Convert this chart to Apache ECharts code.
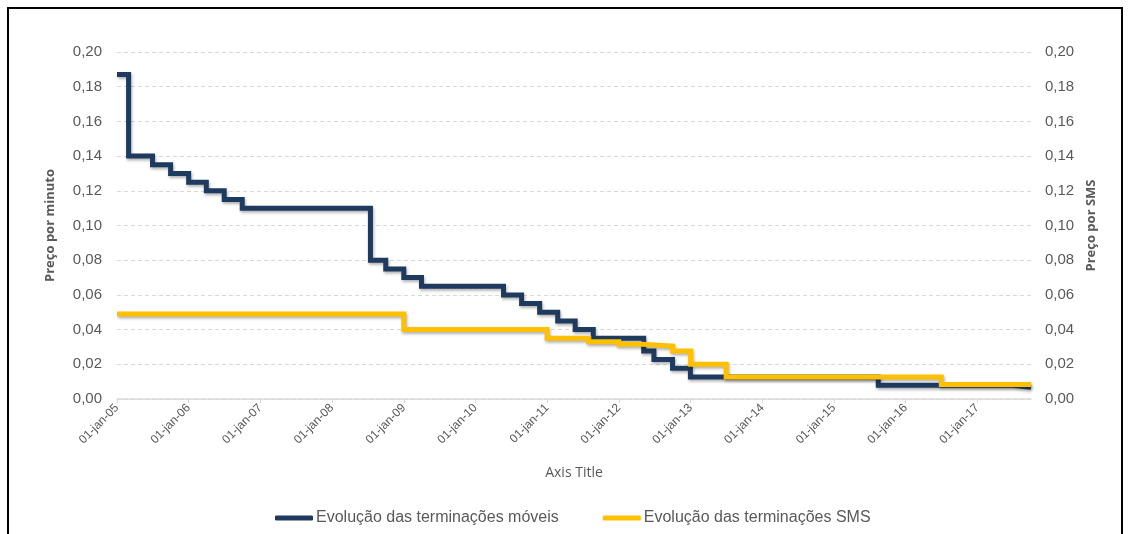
<!DOCTYPE html>
<html>
<head>
<meta charset="utf-8">
<script src="https://cdn.jsdelivr.net/npm/echarts@6/dist/echarts.min.js"></script>
<style>
  html, body { margin: 0; padding: 0; background: #fff; overflow: hidden; }
  #wrap { position: relative; width: 1132px; height: 534px; overflow: hidden; }
  #chart { position: absolute; left: 0; top: 0; width: 1132px; height: 534px; }
  #frame { position: absolute; left: 7px; top: 7px; width: 1116px; height: 600px;
           border: 2px solid #000; box-sizing: border-box; pointer-events: none; }
</style>
</head>
<body>
<div id="wrap">
  <div id="chart"></div>
  <div id="frame"></div>
</div>
<script>
// Mobile termination rate (€/min): each value applies from its date until the next one
const mobileDates = ['2005-01-01', '2005-03-01', '2005-07-01', '2005-10-01', '2006-01-01',
  '2006-04-01', '2006-07-01', '2006-10-01', '2008-07-15', '2008-10-01', '2009-01-01',
  '2009-04-01', '2010-05-24', '2010-08-24', '2010-11-24', '2011-02-24', '2011-05-24',
  '2011-08-24', '2012-05-07', '2012-06-28', '2012-10-01', '2012-12-31', '2015-08-15',
  '2017-07-01', '2017-10-01'];
const mobileRates = [0.187, 0.14, 0.135, 0.13, 0.125,
  0.12, 0.115, 0.11, 0.08, 0.075, 0.07,
  0.065, 0.06, 0.055, 0.05, 0.045, 0.04,
  0.035, 0.0277, 0.0227, 0.0177, 0.0127, 0.0079,
  0.0068, 0.0068];

// SMS termination rate (€/SMS)
const smsDates = ['2005-01-01', '2009-01-01', '2011-01-01', '2011-08-01', '2012-01-01',
  '2012-05-01', '2012-10-01', '2013-01-01', '2013-07-01', '2016-07-01', '2017-10-01'];
const smsRates = [0.049, 0.04, 0.035, 0.033, 0.0315,
  0.0305, 0.0277, 0.0201, 0.0127, 0.0083, 0.0083];

// Year ticks on the date axis
const tickYears = [2005, 2006, 2007, 2008, 2009, 2010, 2011, 2012, 2013, 2014, 2015, 2016, 2017];
const monthAbbr = 'jan';
const xStart = '2005-01-01';
const xEnd = '2017-10-01';

const seriesNames = ['Evolução das terminações móveis', 'Evolução das terminações SMS'];
const axisNames = { left: 'Preço por minuto', right: 'Preço por SMS', bottom: 'Axis Title' };

const ts = s => { const p = s.split('-').map(Number); return Date.UTC(p[0], p[1] - 1, p[2]); };
const tickValues = tickYears.map(y => Date.UTC(y, 0, 1));
const toPairs = (dates, vals) => dates.map((d, i) => [ts(d), vals[i]]);
const fmtComma = v => v.toFixed(2).replace('.', ',');
const fmtDate = v => '01-' + monthAbbr + '-' + String(new Date(v + 43200000).getUTCFullYear()).slice(2);

const TXT = '#595959';
const GRID = '#d9d9d9';

const yAxisBase = {
  type: 'value', min: 0, max: 0.2, interval: 0.02,
  axisLine: { show: false }, axisTick: { show: false },
  nameLocation: 'middle', nameRotate: 90,
  nameTextStyle: { color: TXT, fontFamily: 'Open Sans', fontWeight: 'bold', fontSize: 13 },
  axisLabel: { color: TXT, fontFamily: 'Liberation Sans', fontSize: 15, formatter: fmtComma }
};

const chart = echarts.init(document.getElementById('chart'), null, { renderer: 'canvas' });
chart.setOption({
  animation: false,
  backgroundColor: '#fff',
  grid: { left: 117, right: 101, top: 52, bottom: 135, containLabel: false },
  xAxis: {
    type: 'value',
    min: ts(xStart), max: ts(xEnd),
    name: axisNames.bottom, nameLocation: 'middle', nameGap: 67,
    nameTextStyle: { color: TXT, fontFamily: 'Open Sans', fontSize: 14 },
    axisLine: { lineStyle: { color: GRID, width: 1.5 } },
    axisTick: { show: true, length: 4, lineStyle: { color: GRID }, customValues: tickValues },
    splitLine: { show: false },
    axisLabel: {
      customValues: tickValues,
      rotate: 45, margin: 7,
      color: TXT, fontFamily: 'Liberation Sans', fontSize: 12,
      formatter: fmtDate
    }
  },
  yAxis: [
    Object.assign({}, yAxisBase, {
      position: 'left', name: axisNames.left, nameGap: 60,
      axisLabel: Object.assign({}, yAxisBase.axisLabel, { margin: 15 }),
      splitLine: { show: true, lineStyle: { color: GRID, type: [4, 3], width: 1 } }
    }),
    Object.assign({}, yAxisBase, {
      position: 'right', name: axisNames.right, nameGap: 54,
      axisLabel: Object.assign({}, yAxisBase.axisLabel, { margin: 14 }),
      splitLine: { show: false }
    })
  ],
  legend: {
    top: 505, left: 270,
    selectedMode: false,
    icon: 'roundRect', itemWidth: 38, itemHeight: 5, itemGap: 44,
    textStyle: { color: TXT, fontFamily: 'Liberation Sans', fontSize: 16, padding: [0, 0, 0, -2] },
    data: seriesNames
  },
  series: [
    {
      name: seriesNames[0], type: 'line', yAxisIndex: 0, step: 'end',
      showSymbol: false, symbol: 'none',
      data: toPairs(mobileDates, mobileRates),
      itemStyle: { color: '#1f3a5f' },
      lineStyle: { color: '#1f3a5f', width: 5, cap: 'butt', join: 'miter',
        shadowColor: 'rgba(0,0,0,0.3)', shadowBlur: 3, shadowOffsetX: 1, shadowOffsetY: 2 },
      z: 2
    },
    {
      name: seriesNames[1], type: 'line', yAxisIndex: 1, step: 'end',
      showSymbol: false, symbol: 'none',
      data: toPairs(smsDates, smsRates),
      itemStyle: { color: '#ffc000' },
      lineStyle: { color: '#ffc000', width: 5, cap: 'butt', join: 'miter',
        shadowColor: 'rgba(0,0,0,0.3)', shadowBlur: 3, shadowOffsetX: 1, shadowOffsetY: 2 },
      z: 3
    }
  ]
});
</script>
</body>
</html>
